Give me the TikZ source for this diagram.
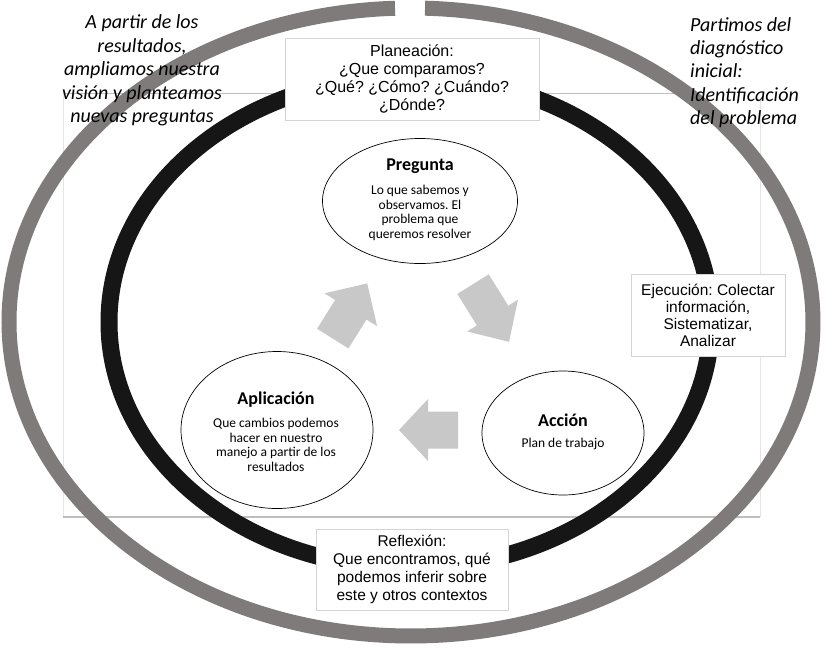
\documentclass[tikz,border=0pt]{standalone}
\usepackage{fontspec}
\newfontfamily\carl{Carlito}
\newfontfamily\arial{Liberation Sans}
\usetikzlibrary{shapes.geometric}
\definecolor{ringgray}{RGB}{127,123,123}
\definecolor{ringblack}{RGB}{22,22,22}
\definecolor{arrowgray}{RGB}{200,200,200}
\definecolor{boxline}{RGB}{212,212,212}
\definecolor{frameline}{RGB}{190,190,190}
\definecolor{framefaint}{RGB}{228,228,228}
\begin{document}
\frenchspacing
\begin{tikzpicture}[x=1pt,y=-1pt,
  bubble/.style={ellipse, draw=black, line width=0.7pt, fill=white, inner sep=0pt},
  bubbletitle/.style={font=\carl\bfseries\fontsize{18}{20}\selectfont, inner sep=0pt},
  bubblebody/.style={font=\carl\frenchspacing\fontsize{13.5}{14.5}\selectfont, align=center, inner sep=0pt},
  infobox/.style={draw=boxline, line width=0.8pt, fill=white, inner sep=0pt, align=center, font=\arial\frenchspacing\fontsize{15.5}{18.2}\selectfont},
  note/.style={font=\carl\itshape\frenchspacing\fontsize{20}{23.4}\selectfont, inner sep=0pt},
  blockarrow/.style={fill=arrowgray}
]
\useasboundingbox (0,0) rectangle (832,649);
\fill[white] (0,0) rectangle (832,649);

% faint background frame
\draw[framefaint, line width=1pt] (63,93) -- (63,517);
\draw[framefaint, line width=1pt] (760,100) -- (760,517);
\draw[frameline, line width=1pt] (63,93) -- (686,93);
\draw[frameline, line width=1.5pt] (63,517) -- (760,517);

% outer gray ring with a gap at the top
\coordinate (outerstart) at (395,8.25);
\draw[ringgray, line width=15pt] (outerstart) arc[start angle=92.28, end angle=448.0, x radius=402pt, y radius=314pt];

% inner black ring
\coordinate (innerc) at (410,322);
\draw[ringblack, line width=17pt] (innerc) ellipse [x radius=301pt, y radius=246pt];

% side notes
\node[note, align=center] (lefttext) at (142,70.5) {A partir de los\\resultados,\\ampliamos nuestra\\visión y planteamos\\nuevas preguntas};
\node[note, align=left, anchor=west] (righttext) at (690,72.5) {Partimos del\\diagnóstico\\inicial:\\Identificación\\del problema};

% boxes
\node[infobox, minimum width=254, minimum height=82, font=\arial\frenchspacing\fontsize{16}{18.3}\selectfont] (plan) at (412,79) {Planeación:\\¿Que comparamos?\\¿Qué? ¿Cómo? ¿Cuándo?\\¿Dónde?};
\node[infobox, minimum width=154, minimum height=82, font=\arial\frenchspacing\fontsize{15.5}{17}\selectfont] (ejec) at (708,315) {Ejecución: Colectar\\información,\\Sistematizar,\\Analizar};
\node[infobox, minimum width=192, minimum height=81] (refl) at (412,569.5) {Reflexión:\\Que encontramos, qué\\podemos inferir sobre\\este y otros contextos};

% bubbles
\node[bubble, minimum width=195, minimum height=125] (pregunta) at (420,201) {};
\node[bubbletitle] (preguntaT) at (420,166) {Pregunta};
\node[bubblebody] (preguntaB) at (420,213) {Lo que sabemos y\\observamos. El\\problema que\\queremos resolver};

\node[bubble, minimum width=162, minimum height=124] (accion) at (563,433) {};
\node[bubbletitle] (accionT) at (563,420) {Acción};
\node[bubblebody] (accionB) at (563,444) {Plan de trabajo};

\node[bubble, minimum width=192, minimum height=157] (aplic) at (277,430) {};
\node[bubbletitle] (aplicT) at (276,400) {Aplicación};
\node[bubblebody] (aplicB) at (276,445) {Que cambios podemos\\hacer en nuestro\\manejo a partir de los\\resultados};

% block arrows
\begin{scope}[shift={(350,311)}, rotate=58]
\fill[blockarrow] (-32.5,-18.5) -- (1.5,-18.5) -- (1.5,-31) -- (32.5,0) -- (1.5,31) -- (1.5,18.5) -- (-32.5,18.5) -- cycle;
\end{scope}
\begin{scope}[shift={(491,313)}, rotate=-58]
\fill[blockarrow] (-34,-18.5) -- (3,-18.5) -- (3,-30) -- (34,0) -- (3,30) -- (3,18.5) -- (-34,18.5) -- cycle;
\end{scope}
\begin{scope}[shift={(428.5,430)}, rotate=180]
\fill[blockarrow] (-29.5,-18.5) -- (0.5,-18.5) -- (0.5,-31) -- (29.5,0) -- (0.5,31) -- (0.5,18.5) -- (-29.5,18.5) -- cycle;
\end{scope}
\end{tikzpicture}
\end{document}
